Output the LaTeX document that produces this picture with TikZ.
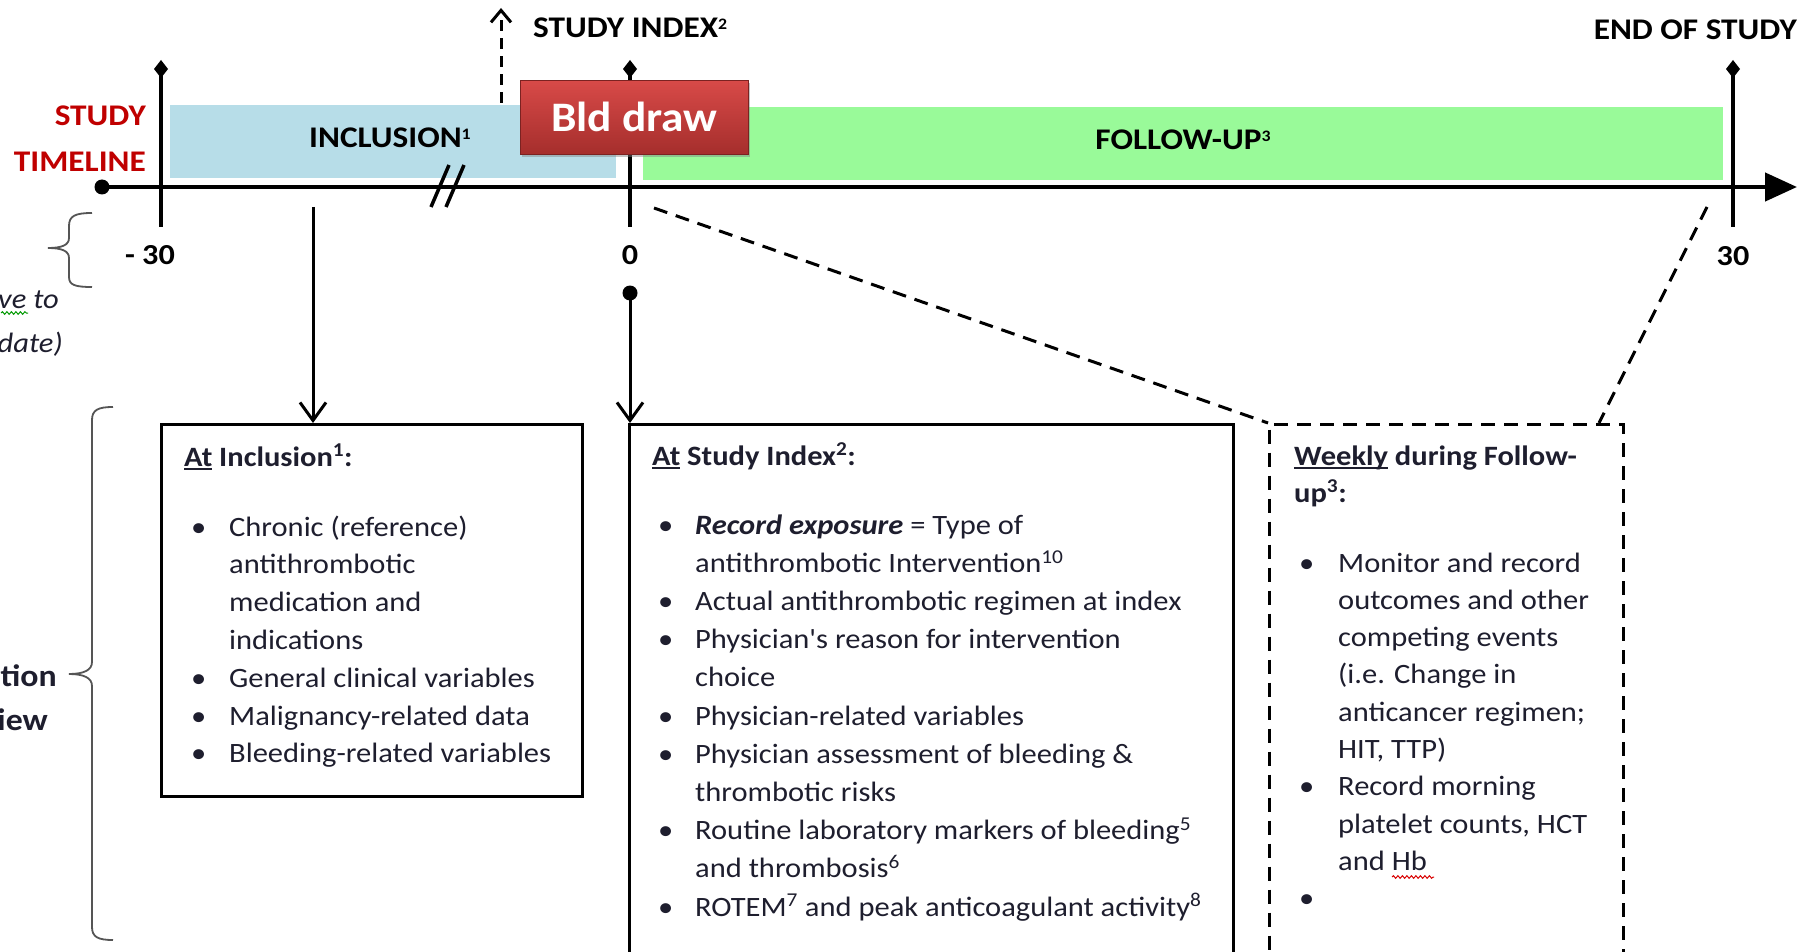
\documentclass[tikz,border=0pt]{standalone}
\usepackage{fontspec}
\setmainfont{Carlito}
\newfontfamily\bodyfont{Carlito}[FakeStretch=1.09]
\newfontfamily\hdrfont{Carlito}[FakeStretch=1.11]
\newfontfamily\bldfont{Carlito}[FakeStretch=1.08]
\usetikzlibrary{arrows.meta,shadows,decorations.pathmorphing}
\definecolor{tlred}{HTML}{C00000}
\definecolor{incblue}{HTML}{B7DDE8}
\definecolor{fugreen}{HTML}{99FA99}
\definecolor{bodytxt}{HTML}{1E1E2E}
\definecolor{bldtop}{HTML}{D84A48}
\definecolor{bldbot}{HTML}{A52E2C}
\definecolor{bracegray}{HTML}{555555}
\newlength\ulw
\newcommand\ulx[1]{\settowidth\ulw{#1}\rlap{\rule[-4pt]{\ulw}{1.6pt}}#1}
\newcommand\bl[1][38pt]{\makebox[#1][l]{\textbullet}}
\newcommand\ind[1][38pt]{\hspace*{#1}}
\newcommand\hsup[1]{\raisebox{8pt}{\fontsize{16}{19}\selectfont #1}}
\tikzset{
  hdr/.style={font=\hdrfont\fontsize{30}{36}\selectfont\bfseries, inner sep=0pt},
  redhdr/.style={hdr, text=tlred},
  ticklbl/.style={font=\hdrfont\fontsize{29}{34}\selectfont\bfseries, inner sep=0pt},
  bodytext/.style={font=\bodyfont\fontsize{28}{37.8}\selectfont, text=bodytxt, inner sep=0pt, anchor=base west},
  boxhead/.style={font=\bodyfont\fontsize{28}{37}\selectfont\bfseries, text=bodytxt, inner sep=0pt, anchor=base west},
  sidetext/.style={font=\bodyfont\fontsize{28}{34}\selectfont\itshape, text=bodytxt, inner sep=0pt, anchor=base east},
  sidebold/.style={font=\bodyfont\fontsize{31}{36}\selectfont\bfseries, text=bodytxt, inner sep=0pt, anchor=base east},
  infobox/.style={draw=black, line width=3pt, inner sep=0pt, anchor=north west},
  tickline/.style={line width=3.5pt, -{Diamond[length=18pt,width=14pt]}},
  downarrow/.style={line width=3pt, -{Straight Barb[length=18pt,width=26pt]}},
  dashline/.style={line width=3pt, dash pattern=on 14pt off 9pt},
  bracepath/.style={draw=bracegray, line width=1.8pt},
  wavy/.style={decorate, decoration={snake, amplitude=1.3pt, segment length=4.5pt}, line width=1pt},
}
\begin{document}
\begin{tikzpicture}[x=1pt,y=-1pt]
\useasboundingbox (0,0) rectangle (1802,952);
\clip (0,0) rectangle (1802,952);
\fill[white] (0,0) rectangle (1802,952);

% phase bars
\node[fill=incblue, minimum width=446pt, minimum height=73pt, inner sep=0pt, anchor=north west] (incbar) at (170,105) {};
\node[fill=fugreen, minimum width=1080pt, minimum height=73pt, inner sep=0pt, anchor=north west] (fubar) at (643,107) {};
\node[hdr, anchor=base west] (lblinc) at (309,148) {INCLUSION\hsup{1}};
\node[hdr, anchor=base] (lblfu) at (1183,150) {FOLLOW-UP\hsup{3}};

% timeline
\node[circle, fill=black, minimum size=15pt, inner sep=0pt] (tlstart) at (102,187) {};
\coordinate (tlend) at (1797,187);
\draw[line width=4.5pt, -{Triangle[length=32pt,width=28pt]}] (tlstart.center) -- (tlend);

% ticks
\coordinate (tkAbot) at (161,227); \coordinate (tkAtop) at (161,60);
\coordinate (tkBbot) at (630,227); \coordinate (tkBtop) at (630,60);
\coordinate (tkCbot) at (1733,227); \coordinate (tkCtop) at (1733,60);
\draw[tickline] (tkAbot) -- (tkAtop);
\draw[tickline] (tkBbot) -- (tkBtop);
\draw[tickline] (tkCbot) -- (tkCtop);

% break marks
\draw[line width=3.5pt] (449,165) -- (431,207);
\draw[line width=3.5pt] (464,165) -- (446,207);

% tick labels
\node[ticklbl] (lblm30) at (150,255) {- 30};
\node[ticklbl] (lbl0) at (630,255) {0};
\node[ticklbl] (lbl30) at (1733,256) {30};

% top labels
\node[redhdr, anchor=base east] (lblstudy) at (146,126) {STUDY};
\node[redhdr, anchor=base east] (lbltimeline) at (146,172) {TIMELINE};
\node[hdr, anchor=base west] (lblindex) at (533,38) {STUDY INDEX\hsup{2}};
\node[hdr, anchor=base east] (lblend) at (1797,40) {END OF STUDY};

% dashed up arrow
\coordinate (upfrom) at (501,103);
\coordinate (upto) at (501,8);
\draw[line width=3pt, dash pattern=on 11pt off 7pt, -{Straight Barb[length=12pt,width=20pt]}] (upfrom) -- (upto);

% Bld draw
\node[draw=bldbot!75!black, line width=0.8pt, top color=bldtop, bottom color=bldbot,
      drop shadow={shadow xshift=2pt, shadow yshift=-3pt, opacity=0.45},
      minimum width=228pt, minimum height=74pt, inner sep=0pt, anchor=north west,
      text=white, font=\bldfont\fontsize{42}{48}\selectfont\bfseries] (bld) at (520,80) {Bld draw};

% left braces and side text
\path[bracepath] (92,213) .. controls (75,213) and (69,216) .. (69,226) -- (69,238)
   .. controls (69,245) and (62,248) .. (48,248)
   .. controls (62,248) and (69,251) .. (69,258) -- (69,277)
   .. controls (69,285) and (75,287) .. (92,287);
\path[bracepath] (113,407) .. controls (98,407) and (92,410) .. (92,420) -- (92,662)
   .. controls (92,670) and (84,674) .. (69,674)
   .. controls (84,674) and (92,678) .. (92,686) -- (92,927)
   .. controls (92,937) and (98,940) .. (113,940);
\node[sidetext] (lblveto) at (59,308) {ve to};
\node[sidetext] (lbldate) at (63,352) {date)};
\node[sidebold] (lbltion) at (57,686) {tion};
\node[sidebold] (lbliew) at (48,730) {iew};
\draw[wavy, draw=green!60!black] (1,313) -- (28,313);

% boxes
\node[infobox, minimum width=421pt, minimum height=372pt] (incbox) at (160,423) {};
\node[infobox, minimum width=604pt, minimum height=529pt] (idxbox) at (628,423) {};
\node[infobox, dashline, minimum width=354pt, minimum height=529pt] (weekbox) at (1268,423) {};

% connectors
\coordinate (incfrom) at (313,207);
\draw[downarrow] (incfrom) -- (incfrom |- incbox.north);
\node[circle, fill=black, minimum size=15pt, inner sep=0pt] (idxdot) at (630,293) {};
\draw[downarrow] (idxdot.center) -- (idxdot |- idxbox.north);
\coordinate (dashA) at (654,208);
\draw[dashline] (dashA) -- (weekbox.north west);
\coordinate (dashB) at (1707,207);
\coordinate (dashBend) at (1599,423);
\draw[dashline] (dashB) -- (dashBend);

% inclusion box text
\node[boxhead] (inchead) at (184,466) {\ulx{At} Inclusion\textsuperscript{1}:};
\node[bodytext] (inclist) at (191,536) {\begin{tabular}[t]{@{}l@{}}
\bl Chronic (reference)\\
\ind antithrombotic\\
\ind medication and\\
\ind indications\\
\bl General clinical variables\\
\bl Malignancy-related data\\
\bl Bleeding-related variables
\end{tabular}};

% study index box text
\node[boxhead] (idxhead) at (652,465) {\ulx{At} Study Index\textsuperscript{2}:};
\node[bodytext, font=\bodyfont\fontsize{28}{38.2}\selectfont] (idxlist) at (658,534) {\begin{tabular}[t]{@{}l@{}}
\bl[37pt]\textbf{\textit{Record exposure}} = Type of\\
\ind[37pt]antithrombotic Intervention\textsuperscript{10}\\
\bl[37pt]Actual antithrombotic regimen at index\\
\bl[37pt]Physician's reason for intervention\\
\ind[37pt]choice\\
\bl[37pt]Physician-related variables\\
\bl[37pt]Physician assessment of bleeding \&\\
\ind[37pt]thrombotic risks\\
\bl[37pt]Routine laboratory markers of bleeding\textsuperscript{5}\\
\ind[37pt]and thrombosis\textsuperscript{6}\\
\bl[37pt]ROTEM\textsuperscript{7} and peak anticoagulant activity\textsuperscript{8}
\end{tabular}};

% weekly box text
\node[boxhead] (weekhead) at (1294,465) {\begin{tabular}[t]{@{}l@{}}
\ulx{Weekly} during Follow-\\
up\textsuperscript{3}:
\end{tabular}};
\node[bodytext, font=\bodyfont\fontsize{28}{37.3}\selectfont] (weeklist) at (1299,572) {\begin{tabular}[t]{@{}l@{}}
\bl[39pt]Monitor and record\\
\ind[39pt]outcomes and other\\
\ind[39pt]competing events\\
\ind[39pt](i.e. Change in\\
\ind[39pt]anticancer regimen;\\
\ind[39pt]HIT, TTP)\\
\bl[39pt]Record morning\\
\ind[39pt]platelet counts, HCT\\
\ind[39pt]and Hb\\
\bl[39pt]
\end{tabular}};
\draw[wavy, draw=red!85!black] (1392,877) -- (1434,877);
\end{tikzpicture}
\end{document}
